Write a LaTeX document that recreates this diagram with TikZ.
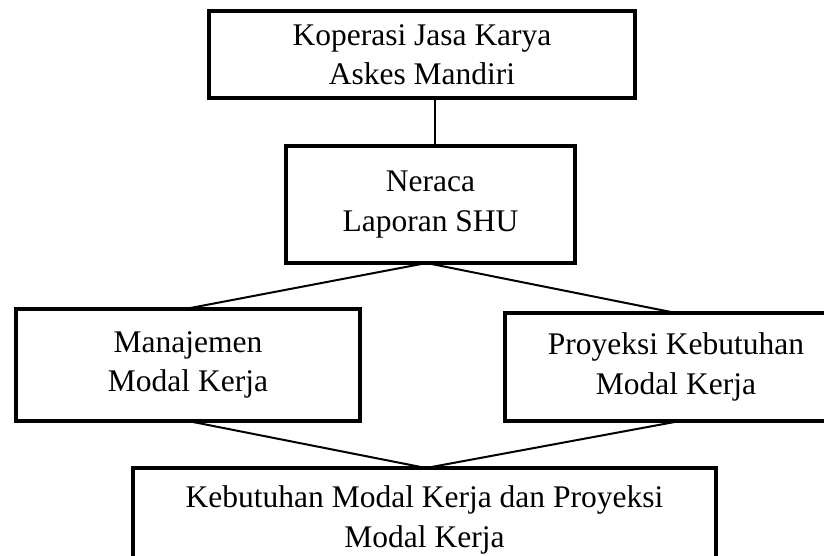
\documentclass[tikz,border=0pt]{standalone}
\usepackage{fontspec}
\setmainfont{Liberation Serif}
\begin{document}
\begin{tikzpicture}[x=1pt,y=-1pt,
  box/.style={draw, line width=3.5pt, rectangle, inner sep=0pt, outer sep=0pt,
    align=center, font=\fontsize{31.5}{39.5}\selectfont},
  conn/.style={line width=2pt}]
\useasboundingbox (0,0) rectangle (824,555);
\clip (0,0) rectangle (824,555);
\node[box, minimum width=426pt, minimum height=87pt] (top) at (422,54.5)
  {Koperasi Jasa Karya\\Askes Mandiri};
\node[box, minimum width=289pt, minimum height=117pt] (ner) at (430.5,204.5)
  {Neraca\\Laporan SHU};
\node[box, minimum width=344pt, minimum height=112pt] (man) at (188,365)
  {Manajemen\\Modal Kerja};
\node[box, minimum width=342pt, minimum height=108pt] (pro) at (676,367)
  {Proyeksi Kebutuhan\\Modal Kerja};
\node[box, minimum width=583pt, minimum height=104pt] (bot) at (424.5,520)
  {Kebutuhan Modal Kerja dan Proyeksi\\Modal Kerja};
\draw[conn] ([xshift=4.5pt]ner.north) -- ([xshift=4.5pt]top.south -| ner.north);
\draw[conn] ([xshift=-4pt]ner.south) -- ([xshift=-3pt]man.north);
\draw[conn] ([xshift=-4pt]ner.south) -- (pro.north);
\draw[conn] (man.south) -- ([xshift=1.5pt]bot.north);
\draw[conn] ([xshift=4pt]pro.south) -- ([xshift=1.5pt]bot.north);
\end{tikzpicture}
\end{document}
